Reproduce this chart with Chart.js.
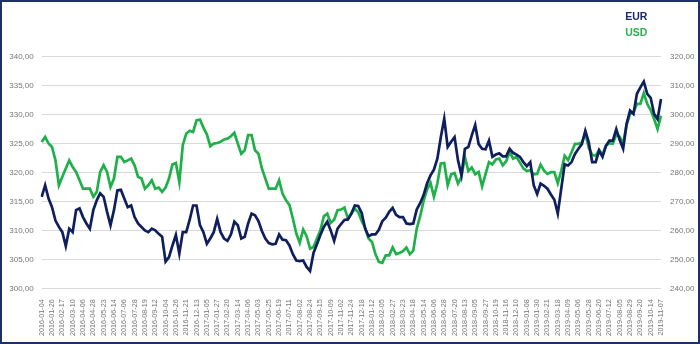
<!DOCTYPE html>
<html><head><meta charset="utf-8">
<script src="https://cdn.jsdelivr.net/npm/chart.js@4"></script>
<style>
html,body{margin:0;padding:0;background:#fff;}
#wrap{position:relative;width:700px;height:344px;box-sizing:border-box;border:2px solid #1f2f6b;background:#fff;}
#c{display:block;}
</style></head><body>
<div id="wrap"><canvas id="c" width="696" height="340"></canvas></div>
<script>
const tickLabels = ["2016-01-04","2016-01-26","2016-02-17","2016-03-10","2016-04-06","2016-04-28","2016-05-23","2016-06-14","2016-07-06","2016-07-28","2016-08-19","2016-09-12","2016-10-04","2016-10-26","2016-11-21","2016-12-13","2017-01-05","2017-01-27","2017-02-20","2017-03-14","2017-04-06","2017-05-03","2017-05-25","2017-06-19","2017-07-11","2017-08-02","2017-08-24","2017-09-15","2017-10-09","2017-11-02","2017-11-24","2017-12-18","2018-01-12","2018-02-05","2018-02-27","2018-03-23","2018-04-18","2018-05-14","2018-06-06","2018-06-28","2018-07-20","2018-08-13","2018-09-05","2018-09-27","2018-10-19","2018-11-16","2018-12-10","2019-01-08","2019-01-30","2019-02-21","2019-03-18","2019-04-09","2019-05-06","2019-05-28","2019-06-20","2019-07-12","2019-08-05","2019-08-29","2019-09-20","2019-10-14","2019-11-07"];
const pointsPerLabel = 3;
const eurValues = [315.8,317.8,315.5,314.0,311.7,310.6,309.7,307.3,310.3,309.7,313.5,313.8,312.3,311.2,310.3,313.5,315.2,316.4,315.8,313.2,310.9,313.5,316.9,317.0,315.5,314.0,314.3,312.3,311.2,310.6,310.0,309.7,310.3,310.0,309.4,308.9,304.6,305.4,307.4,309.2,306.0,309.7,309.7,311.8,314.3,314.3,310.9,309.7,307.7,308.6,309.7,312.0,309.7,308.6,308.2,309.3,311.5,310.9,308.6,308.9,311.2,312.9,312.6,311.6,309.9,308.6,307.8,307.6,307.7,309.3,308.4,308.3,307.4,305.9,304.8,304.7,304.8,303.7,303.0,306.1,307.6,309.2,310.6,311.5,310.0,308.2,310.3,311.1,311.8,311.9,312.9,314.3,314.2,313.0,310.3,309.0,309.3,309.3,310.1,311.6,312.2,313.2,313.9,312.7,312.3,312.3,311.2,311.1,311.2,313.6,314.7,316.1,318.1,319.5,320.5,322.4,326.1,329.3,324.4,325.3,326.1,322.1,319.5,324.1,324.4,326.4,328.2,324.9,324.1,324.0,325.5,322.7,323.1,323.3,322.8,322.8,324.1,323.4,323.1,322.7,321.8,321.1,321.8,317.8,316.3,318.1,317.7,317.2,316.2,315.3,312.9,317.2,321.4,321.2,321.8,323.2,324.1,324.9,327.2,325.2,321.8,321.8,323.8,322.7,324.6,325.5,325.5,327.5,325.6,324.1,328.4,330.7,330.1,333.6,334.7,335.7,333.6,332.9,330.1,329.2,332.7];
const usdValues = [290.5,292.3,290.0,288.8,284.2,275.6,278.5,281.4,284.2,281.9,280.2,277.3,274.4,274.4,274.4,271.6,273.3,280.2,282.5,280.2,275.0,277.9,285.4,285.4,283.6,284.2,284.8,282.5,278.5,277.9,274.4,275.6,277.3,274.4,274.8,273.3,274.8,277.9,282.8,283.3,276.7,289.4,293.4,294.4,294.0,298.0,298.3,295.5,293.2,289.1,290.0,290.2,290.6,291.4,291.7,292.5,293.7,290.0,286.5,287.7,292.9,292.9,287.7,286.5,281.4,277.9,274.4,274.4,274.4,277.3,272.7,270.4,268.8,264.1,258.9,255.7,260.3,258.0,253.7,254.3,257.2,260.0,264.9,265.8,262.6,263.7,267.0,267.2,267.9,264.1,265.8,267.5,266.3,263.3,261.0,257.2,256.0,251.8,249.1,248.8,251.4,251.4,254.1,251.8,252.2,252.8,254.1,251.8,253.0,260.6,264.9,270.2,274.1,276.4,271.6,276.2,283.1,283.3,275.6,279.4,279.8,276.2,278.5,285.4,280.5,281.7,279.4,280.2,275.2,279.4,283.6,282.8,284.5,284.8,282.5,283.9,287.1,284.8,285.4,283.4,281.4,280.5,280.8,279.4,279.5,282.7,280.6,279.5,280.1,280.1,276.3,280.6,285.8,284.3,287.0,289.9,289.9,290.4,293.5,288.5,286.1,285.8,287.8,286.1,289.3,290.1,289.9,293.1,292.4,289.9,296.5,300.2,300.8,303.7,303.7,307.4,303.7,301.6,298.5,295.0,299.6];
const seriesNames = ["EUR","USD"];
const eurAxis = {min:300, max:340, step:5};
const usdAxis = {min:240, max:320, step:10};

const categories = eurValues.map((_, i) => i);
const fmt = v => Number(v).toFixed(2).replace('.', ',');
const tickColor = '#767676';

const legendPlugin = {
  id: 'textLegend',
  afterDraw(chart) {
    const ctx = chart.ctx;
    ctx.save();
    ctx.font = 'bold 10.5px "Liberation Sans", Arial, sans-serif';
    ctx.textAlign = 'right';
    ctx.textBaseline = 'middle';
    chart.data.datasets.forEach((ds, k) => {
      ctx.fillStyle = ds.legendColor;
      ctx.fillText(ds.label, 645.3, 14.7 + k * 16.6);
    });
    ctx.restore();
  }
};

new Chart(document.getElementById('c'), {
  type: 'line',
  data: {
    labels: categories,
    datasets: [
      {label: seriesNames[0], data: eurValues, yAxisID: 'y', borderColor: '#0f1f5e', legendColor: '#1b2a6b', borderWidth: 2.7, pointRadius: 0, tension: 0, fill: false},
      {label: seriesNames[1], data: usdValues, yAxisID: 'y2', borderColor: '#1fb04a', legendColor: '#27b34d', borderWidth: 2.7, pointRadius: 0, tension: 0, fill: false}
    ]
  },
  options: {
    responsive: false,
    devicePixelRatio: 1,
    animation: false,
    layout: {padding: {top: 54.7, left: 0, right: 0, bottom: 0}},
    plugins: {legend: {display: false}, tooltip: {enabled: false}},
    scales: {
      x: {
        type: 'category',
        grid: {display: false},
        border: {display: false},
        afterFit: s => { s.height = 53.7; },
        ticks: {
          autoSkip: false, maxRotation: 90, minRotation: 90, padding: 3,
          color: tickColor, font: {family: '"Liberation Sans", Arial, sans-serif', size: 7.2},
          callback: (v, i) => i % pointsPerLabel === 0 ? tickLabels[i / pointsPerLabel] : null
        }
      },
      y: {
        position: 'left', min: eurAxis.min, max: eurAxis.max,
        grid: {color: '#d9d9d9', lineWidth: 1, drawTicks: false},
        border: {display: false},
        afterFit: s => { s.width = 39.7; },
        ticks: {stepSize: eurAxis.step, padding: 8, color: tickColor,
          font: {family: '"Liberation Sans", Arial, sans-serif', size: 8}, callback: fmt}
      },
      y2: {
        position: 'right', min: usdAxis.min, max: usdAxis.max,
        grid: {display: false, drawTicks: false},
        border: {display: false},
        afterFit: s => { s.width = 37; },
        ticks: {stepSize: usdAxis.step, padding: 9, color: tickColor,
          font: {family: '"Liberation Sans", Arial, sans-serif', size: 8}, callback: fmt}
      }
    }
  },
  plugins: [legendPlugin]
});
</script>
</body></html>
